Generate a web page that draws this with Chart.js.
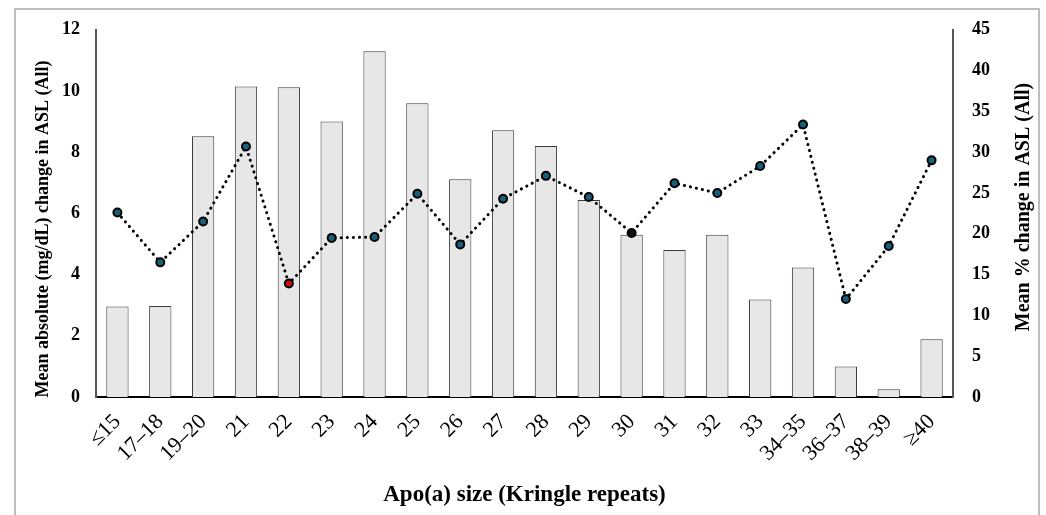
<!DOCTYPE html>
<html>
<head>
<meta charset="utf-8">
<script src="https://cdn.jsdelivr.net/npm/chart.js@4.4.1/dist/chart.umd.min.js"></script>
<style>
  html, body { margin: 0; padding: 0; background: #fff; }
  #wrap { position: relative; width: 1046px; height: 515px; overflow: hidden; }
  #frame { position: absolute; left: 14px; top: 8px; width: 1026px; height: 600px; border: 2px solid #bdbdbd; box-sizing: border-box; pointer-events: none; }
  canvas { position: absolute; left: 0; top: 0; }
</style>
</head>
<body>
<div id="wrap">
  <canvas id="chart" width="1046" height="515"></canvas>
  <div id="frame"></div>
</div>
<script>
var sizes = ['≤15', '17–18', '19–20', '21', '22', '23', '24', '25', '26', '27', '28', '29', '30', '31', '32', '33', '34–35', '36–37', '38–39', '≥40'];
var absChange = [2.96, 2.97, 8.52, 10.15, 10.12, 9.0, 11.3, 9.6, 7.12, 8.72, 8.2, 6.44, 5.3, 4.8, 5.3, 3.19, 4.23, 1.0, 0.25, 1.89];
var pctChange = [22.6, 16.5, 21.5, 30.7, 13.9, 19.5, 19.6, 24.9, 18.7, 24.3, 27.1, 24.5, 20.1, 26.2, 25.0, 28.3, 33.4, 12.0, 18.5, 29.0];
var leftTicks = [0, 2, 4, 6, 8, 10, 12];
var rightTicks = [0, 5, 10, 15, 20, 25, 30, 35, 40, 45];

var dotColors = sizes.map(function(s) {
    if (s === '22') return '#d01010';
    if (s === '30') return '#111111';
    return '#17607c';
});

var serif = "'Liberation Serif', 'Times New Roman', serif";

// vertical titles, both read bottom to top
var sideTitles = {
    id: 'sideTitles',
    afterDraw: function(chart) {
        var ctx = chart.ctx;
        ctx.save();
        ctx.fillStyle = '#000';
        ctx.font = 'bold 18px ' + serif;
        ctx.textAlign = 'center';
        ctx.textBaseline = 'middle';
        ctx.translate(43, 229);
        ctx.rotate(-Math.PI / 2);
        ctx.fillText('Mean absolute (mg/dL) change in ASL (All)', 0, 0);
        ctx.restore();

        ctx.save();
        ctx.fillStyle = '#000';
        ctx.font = 'bold 20px ' + serif;
        ctx.textAlign = 'center';
        ctx.textBaseline = 'middle';
        ctx.translate(1024, 207);
        ctx.rotate(-Math.PI / 2);
        ctx.fillText('Mean % change in ASL (All)', 0, 0);
        ctx.restore();
    }
};

var data = {
    labels: sizes,
    datasets: [{
        type: 'line',
        data: pctChange,
        yAxisID: 'y1',
        order: 0,
        borderColor: '#000',
        borderWidth: 3,
        borderDash: [0.1, 6],
        borderCapStyle: 'round',
        fill: false,
        tension: 0,
        pointRadius: 4,
        pointBorderWidth: 2,
        pointBorderColor: '#000',
        pointBackgroundColor: dotColors
    }, {
        type: 'bar',
        data: absChange,
        yAxisID: 'y',
        order: 1,
        backgroundColor: '#e7e7e7',
        borderColor: '#3a3a3a',
        borderWidth: 1,
        barPercentage: 0.52,
        categoryPercentage: 1.0
    }]
};

var config = {
    type: 'bar',
    data: data,
    options: {
        responsive: false,
        animation: false,
        layout: { padding: { top: 28, left: 0, right: 0, bottom: 0 } },
        plugins: {
            legend: { display: false },
            tooltip: { enabled: false }
        },
        scales: {
            x: {
                grid: { display: false, drawTicks: false },
                border: { display: true, color: '#000', width: 2 },
                ticks: {
                    color: '#000',
                    font: { family: serif, size: 22 },
                    minRotation: 45,
                    maxRotation: 45,
                    autoSkip: false,
                    padding: 12
                },
                title: {
                    display: true,
                    text: 'Apo(a) size (Kringle repeats)',
                    color: '#000',
                    font: { family: serif, size: 23, weight: 'bold' },
                    padding: { top: 4, bottom: 6 }
                },
                afterFit: function(scale) { scale.height = 118; }
            },
            y: {
                position: 'left',
                min: 0,
                max: 12,
                grid: { display: false, drawTicks: false },
                border: { display: true, color: '#555', width: 2 },
                afterBuildTicks: function(scale) {
                    scale.ticks = leftTicks.map(function(v) { return { value: v }; });
                },
                ticks: {
                    color: '#000',
                    font: { family: serif, size: 18, weight: 'bold' },
                    padding: 16
                },
                afterFit: function(scale) { scale.width = 96; }
            },
            y1: {
                position: 'right',
                min: 0,
                max: 45,
                grid: { display: false, drawTicks: false },
                border: { display: true, color: '#555', width: 2 },
                afterBuildTicks: function(scale) {
                    scale.ticks = rightTicks.map(function(v) { return { value: v }; });
                },
                ticks: {
                    color: '#000',
                    font: { family: serif, size: 18, weight: 'bold' },
                    padding: 19
                },
                afterFit: function(scale) { scale.width = 93; }
            }
        }
    },
    plugins: [sideTitles]
};

const myChart = new Chart(document.getElementById('chart'), config);
</script>
</body>
</html>
